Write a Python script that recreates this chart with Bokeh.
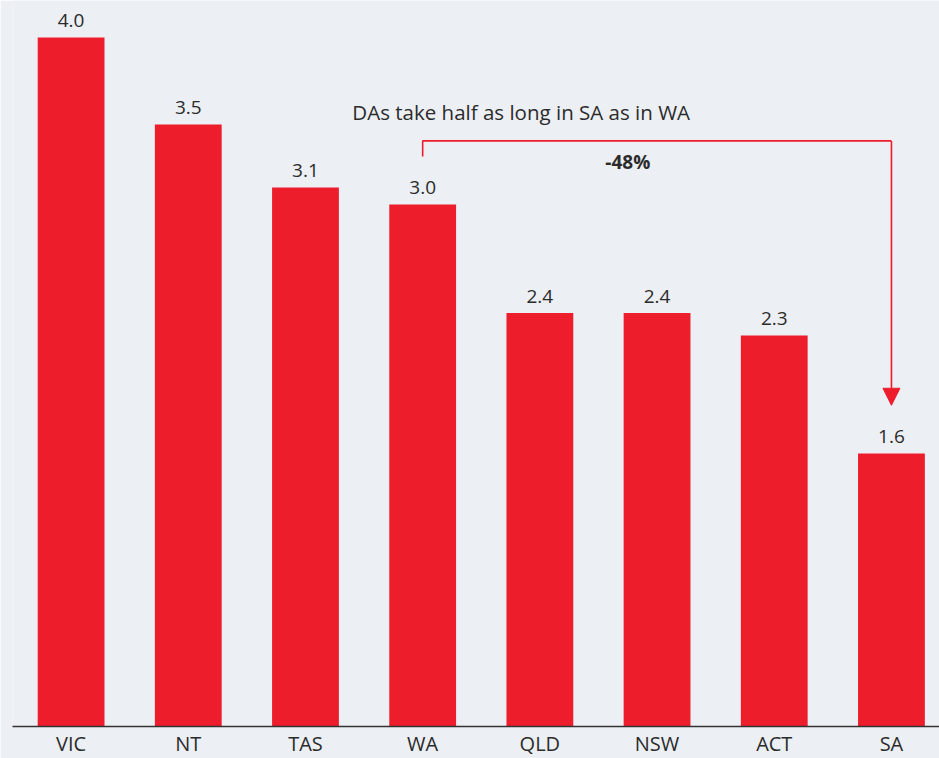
from bokeh.plotting import figure
from bokeh.models import ColumnDataSource, FixedTicker, Range1d, Arrow, NormalHead, Label
from bokeh.core.properties import value
from bokeh.embed import file_html
from bokeh.resources import INLINE

# ---- data ----
states = ["VIC", "NT", "TAS", "WA", "QLD", "NSW", "ACT", "SA"]
months = [4.0, 3.495, 3.13, 3.03, 2.40, 2.40, 2.27, 1.585]
labels = ["4.0", "3.5", "3.1", "3.0", "2.4", "2.4", "2.3", "1.6"]
note_text = "DAs take half as long in SA as in WA"
change_text = "-48%"

BG = "#ECEFF3"
RED = "#EE1D2C"
TXT = "#2B2B2B"
FONT = "Open Sans"

xs = list(range(len(states)))
src = ColumnDataSource(dict(x=xs, top=months, label=labels))

p = figure(frame_width=927, frame_height=726, output_backend="svg",
           toolbar_location=None, y_axis_location=None,
           x_range=Range1d(-0.5, 7.41), y_range=Range1d(0, 4.215),
           min_border_left=12, min_border_right=0, min_border_top=0,
           min_border_bottom=0, background_fill_color=BG,
           border_fill_color=BG, outline_line_color=None)

p.vbar(x="x", top="top", width=0.57, bottom=0, source=src,
       fill_color=RED, line_color=None)

p.text(x="x", y="top", text="label", source=src, text_align="center",
       text_baseline="alphabetic", y_offset=-17, text_font=value(FONT),
       text_font_size="19px", text_color=TXT)

# axis
p.xgrid.grid_line_color = None
p.ygrid.grid_line_color = None
ax = p.xaxis[0]
ax.ticker = FixedTicker(ticks=xs)
ax.major_label_overrides = {i: s for i, s in enumerate(states)}
ax.major_tick_line_color = None
ax.minor_tick_line_color = None
ax.major_tick_out = 0
ax.major_tick_in = 0
ax.axis_line_color = "#333333"
ax.axis_line_width = 1.6
ax.major_label_text_font = FONT
ax.major_label_text_font_size = "20px"
ax.major_label_text_color = TXT
ax.major_label_standoff = 3

# annotation bracket WA -> SA
wa = states.index("WA")
sa = states.index("SA")
off = 0.28
bracket_y = 3.40
p.line([wa, wa, sa], [months[wa] + off, bracket_y, bracket_y],
       line_color=RED, line_width=1.6)
p.add_layout(Arrow(end=NormalHead(size=17, fill_color=RED, line_color=RED, line_width=1),
                   x_start=sa, y_start=bracket_y, x_end=sa, y_end=months[sa] + off,
                   line_color=RED, line_width=1.6))

p.add_layout(Label(x=2.4, y=3.565, text=note_text, text_font=FONT,
                   text_font_size="20.5px", text_color=TXT, text_baseline="middle",
                   text_align="left"))
p.add_layout(Label(x=4.75, y=3.275, text=change_text, text_font=FONT,
                   text_font_size="19px", text_font_style="bold", text_color=TXT,
                   text_baseline="middle", text_align="center"))

open("out.html", "w").write(file_html(p, INLINE))
